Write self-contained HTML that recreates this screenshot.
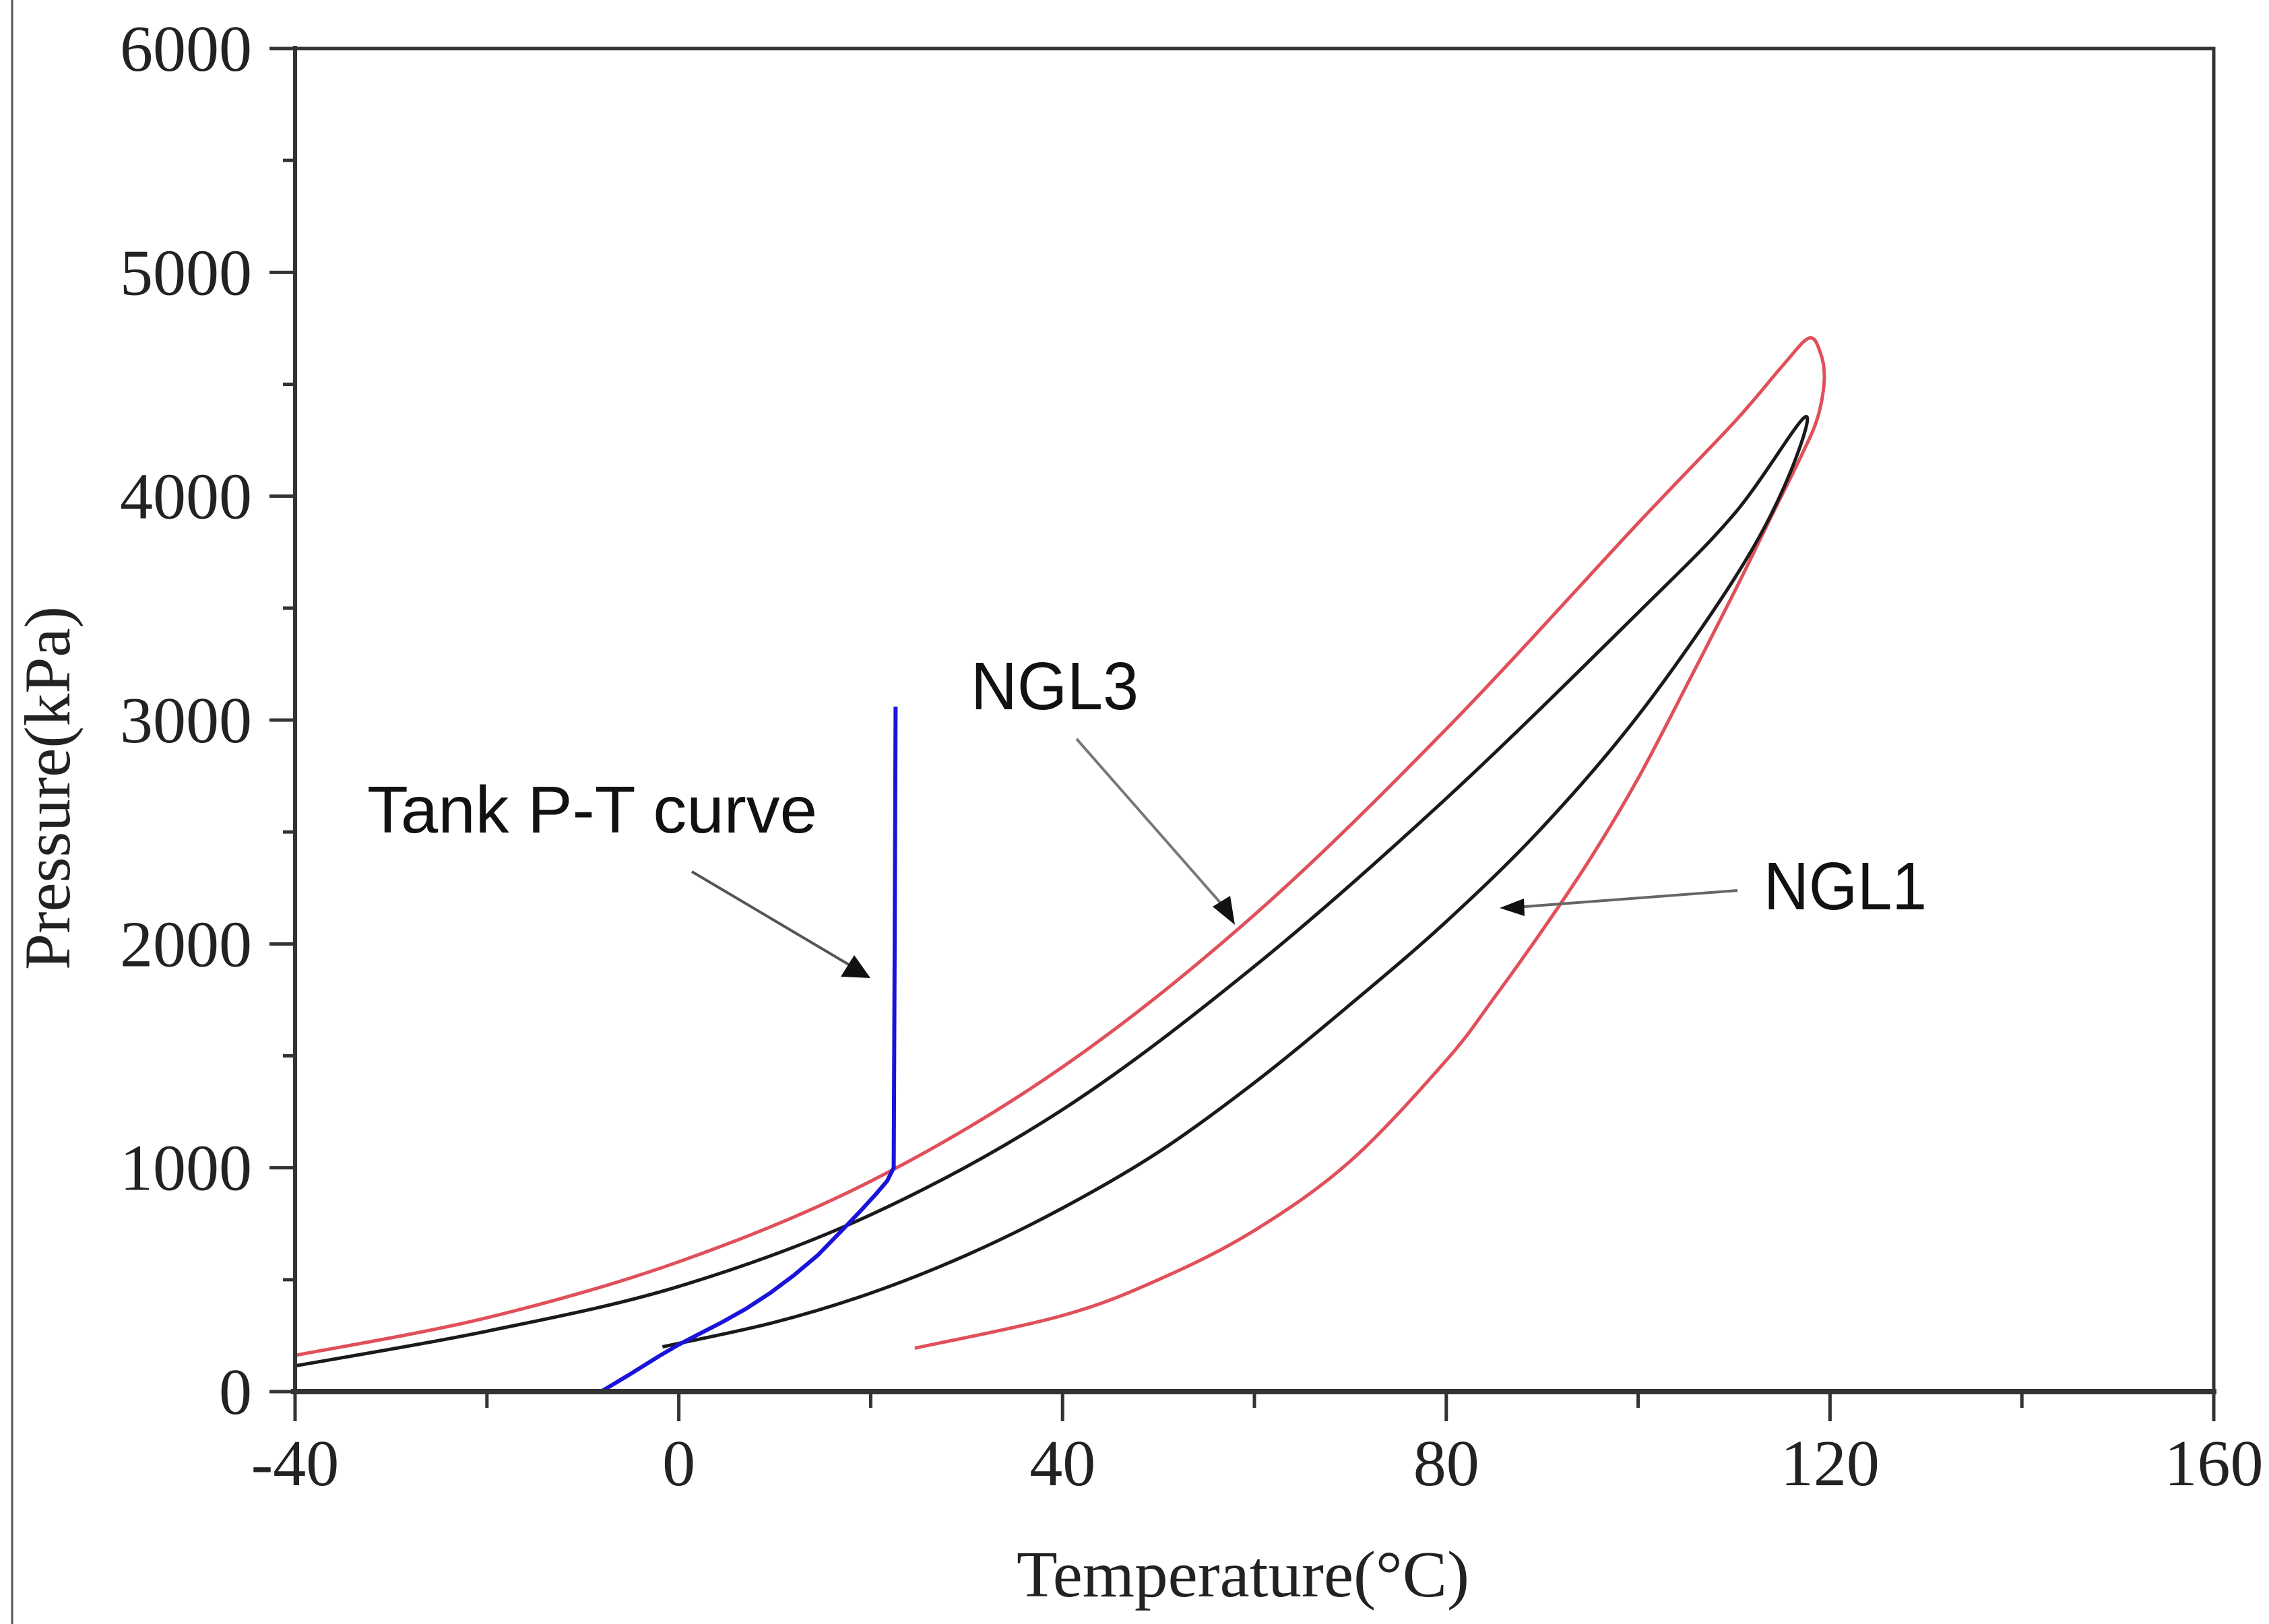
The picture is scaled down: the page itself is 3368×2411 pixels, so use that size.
<!DOCTYPE html>
<html><head><meta charset="utf-8"><title>Pressure vs temperature: tank P-T curve with NGL1 and NGL3 phase envelopes</title>
<style>html,body{margin:0;padding:0;background:#fff;}svg{display:block;}</style></head>
<body>
<svg id="chart" width="3368" height="2411" viewBox="0 0 3368 2411" xmlns="http://www.w3.org/2000/svg">
<rect x="0" y="0" width="3368" height="2411" fill="#fff"/>
<line x1="18" y1="0" x2="18" y2="2411" stroke="#555" stroke-width="3"/>
<defs><clipPath id="plotclip"><rect x="438" y="72" width="2848" height="1994"/></clipPath></defs>
<g id="ticks"></g>
<g id="series" clip-path="url(#plotclip)"></g>
<rect x="438" y="72" width="2848" height="1994" fill="none" stroke="#333" stroke-width="5"/>
<line x1="432" y1="2066" x2="3290" y2="2066" stroke="#333" stroke-width="8"/>
<line x1="438" y1="68" x2="438" y2="2070" stroke="#333" stroke-width="6"/>
<g id="labels" font-family="'Liberation Serif', serif" font-size="98" fill="#222"></g>
<text x="1509" y="2370" font-family="'Liberation Serif', serif" font-size="98" textLength="672" lengthAdjust="spacingAndGlyphs" fill="#222">Temperature(°C)</text>
<text transform="translate(103,1440) rotate(-90)" x="0" y="0" font-family="'Liberation Serif', serif" font-size="96" textLength="540" lengthAdjust="spacingAndGlyphs" fill="#222">Pressure(kPa)</text>
<text x="545" y="1236" font-family="'Liberation Sans', sans-serif" font-size="98" textLength="668" lengthAdjust="spacingAndGlyphs" fill="#111">Tank P-T curve</text>
<text x="1441" y="1053" font-family="'Liberation Sans', sans-serif" font-size="100" textLength="249" lengthAdjust="spacingAndGlyphs" fill="#111">NGL3</text>
<text x="2618" y="1350" font-family="'Liberation Sans', sans-serif" font-size="100" textLength="242" lengthAdjust="spacingAndGlyphs" fill="#111">NGL1</text>
<g>
<line x1="1027" y1="1294" x2="1270" y2="1438" stroke="#555" stroke-width="4"/>
<polygon points="1292,1452 1248,1450 1268,1418" fill="#111"/>
</g>
<g>
<line x1="1598" y1="1097" x2="1820" y2="1350" stroke="#777" stroke-width="4"/>
<polygon points="1833,1373 1800,1346 1826,1330" fill="#111"/>
</g>
<g>
<line x1="2579" y1="1322" x2="2250" y2="1347" stroke="#666" stroke-width="4"/>
<polygon points="2226,1348 2262,1334 2263,1360" fill="#111"/>
</g>
</svg>
<script>
const ngl3Temp = [-40,-20,0,20,40,60,80,100,110,115,117.8,119.0,119.4,118.7,117,114,110,105,100,95,90,85,80,70,60,50,40,24.6];
const ngl3Pres = [162,330,580,940,1450,2130,2960,3880,4330,4580,4706,4640,4520,4350,4180,3920,3570,3150,2740,2380,2060,1760,1480,1030,720,500,340,194];
const ngl1Temp = [-40,-20,0,20,40,60,80,100,110,117.4,115.3,110,100,90,80,70,60,50,40,30,20,10,-1.7];
const ngl1Pres = [115,270,470,790,1260,1900,2650,3480,3920,4354,4050,3630,3020,2520,2100,1730,1380,1070,820,610,440,310,200];
const tankTemp = [-8.1,-5,-2,0,2,4.5,7,9.5,12,14.5,17,19,20.5,21.7,22.4,22.5,22.6];
const tankPres = [0,80,160,210,255,310,370,440,520,610,720,810,880,940,1000,2000,3060];
const xTicks = [-40,0,40,80,120,160];
const yTicks = [0,1000,2000,3000,4000,5000,6000];

const NS = 'http://www.w3.org/2000/svg';
const X0 = 438, X1 = 3286, Y0 = 2066, Y1 = 72;
function xs(t){ return X0 + (t + 40) / 200 * (X1 - X0); }
function ys(p){ return Y0 - p / 6000 * (Y0 - Y1); }

function pathFrom(T, P, smooth){
  const pts = T.map((t,i)=>[xs(t), ys(P[i])]);
  let d = 'M' + pts[0][0].toFixed(1) + ',' + pts[0][1].toFixed(1);
  for (let i=0;i<pts.length-1;i++){
    const p1 = pts[i], p2 = pts[i+1];
    if (!smooth) { d += ' L'+p2[0].toFixed(1)+','+p2[1].toFixed(1); continue; }
    const p0 = pts[Math.max(0,i-1)], p3 = pts[Math.min(pts.length-1,i+2)];
    const k = 6;
    const c1 = [p1[0]+(p2[0]-p0[0])/k, p1[1]+(p2[1]-p0[1])/k];
    const c2 = [p2[0]-(p3[0]-p1[0])/k, p2[1]-(p3[1]-p1[1])/k];
    d += ' C'+c1[0].toFixed(1)+','+c1[1].toFixed(1)+' '+c2[0].toFixed(1)+','+c2[1].toFixed(1)+' '+p2[0].toFixed(1)+','+p2[1].toFixed(1);
  }
  return d;
}
const series = document.getElementById('series');
function addSeries(T, P, color, w, name, smooth){
  const p = document.createElementNS(NS,'path');
  p.setAttribute('d', pathFrom(T,P,smooth));
  p.setAttribute('fill','none');
  p.setAttribute('stroke',color);
  p.setAttribute('stroke-width',w);
  p.setAttribute('stroke-linejoin','round');
  
  
  series.appendChild(p);
}
addSeries(ngl3Temp, ngl3Pres, '#e0505a', 5, 'ngl3-envelope-line', true);
addSeries(ngl1Temp, ngl1Pres, '#1a1a1a', 5, 'ngl1-envelope-line', true);
addSeries(tankTemp, tankPres, '#1a14d8', 6, 'tank-pt-curve-line', false);

const ticks = document.getElementById('ticks');
const labels = document.getElementById('labels');
function ln(x1,y1,x2,y2,w,name){
  const l = document.createElementNS(NS,'line');
  l.setAttribute('x1',x1);l.setAttribute('y1',y1);l.setAttribute('x2',x2);l.setAttribute('y2',y2);
  l.setAttribute('stroke','#333');l.setAttribute('stroke-width',w);
  
  
  ticks.appendChild(l);
}
xTicks.forEach((t,i)=>{
  const x = xs(t);
  ln(x,2066,x,2110,5,'x-major-tick');
  if (i < xTicks.length-1) { const xm = xs(t+20); ln(xm,2066,xm,2090,5,'x-minor-tick'); }
  const tx = document.createElementNS(NS,'text');
  tx.setAttribute('x', x); tx.setAttribute('y', 2205); tx.setAttribute('text-anchor','middle');
  tx.textContent = String(t);
  
  
  labels.appendChild(tx);
});
yTicks.forEach((p,i)=>{
  const y = ys(p);
  ln(400,y,438,y,5,'y-major-tick');
  if (i < yTicks.length-1) { const ym = ys(p+500); ln(420,ym,438,ym,5,'y-minor-tick'); }
  const tx = document.createElementNS(NS,'text');
  tx.setAttribute('x', 374); tx.setAttribute('y', y+33); tx.setAttribute('text-anchor','end');
  tx.textContent = String(p);
  
  
  labels.appendChild(tx);
});
</script>
</body></html>
